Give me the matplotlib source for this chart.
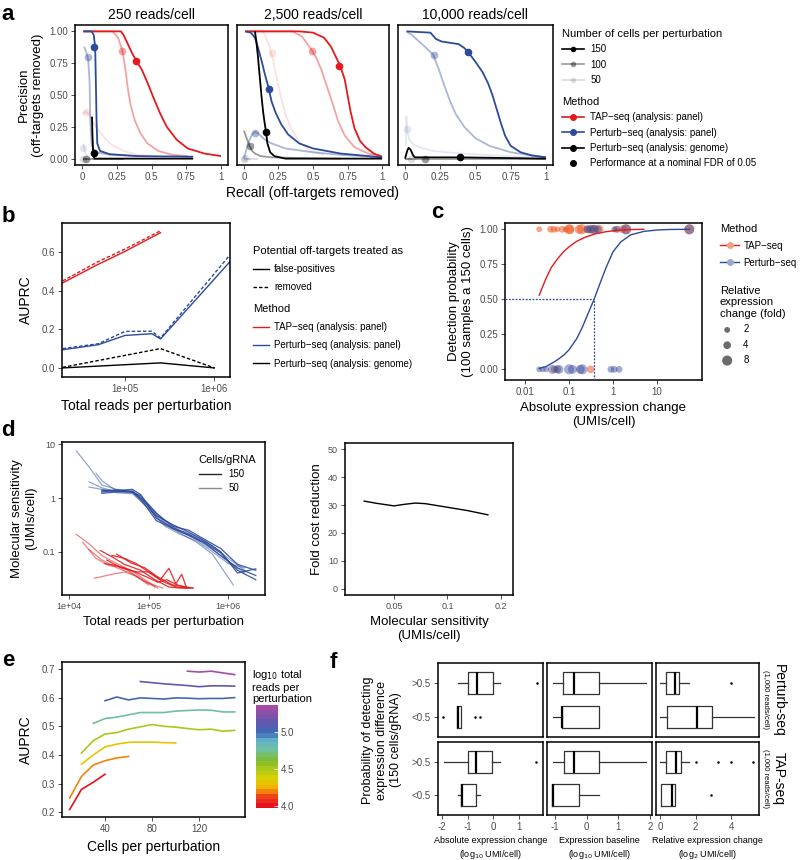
import numpy as np
import matplotlib
matplotlib.use("Agg")
import matplotlib.pyplot as plt
from matplotlib.lines import Line2D
from matplotlib.colors import LinearSegmentedColormap, Normalize
import matplotlib.colorbar as mcolorbar

plt.rcParams['font.family'] = ['Liberation Sans', 'DejaVu Sans']

W, H = 800, 860
fig = plt.figure(figsize=(W / 100, H / 100), dpi=100)

RED = '#e41a1c'
BLUE = '#2d4b9b'
TICKC = '#4d4d4d'

# ---------------- data: panel a (precision / recall) ----------------
a_titles = ['250 reads/cell', '2,500 reads/cell', '10,000 reads/cell']
a_ticks = [0, 0.25, 0.5, 0.75, 1]
a_xlabels = ['0', '0.25', '0.5', '0.75', '1']
a_ylabels = ['0.00', '0.25', '0.50', '0.75', '1.00']

# 250 reads/cell
tap150_250_r = [0.01, 0.28, 0.30, 0.33, 0.36, 0.39, 0.43, 0.47, 0.51, 0.56, 0.61, 0.68, 0.76, 0.88, 1.0]
tap150_250_p = [1, 1, 0.97, 0.90, 0.83, 0.77, 0.70, 0.60, 0.49, 0.36, 0.25, 0.15, 0.08, 0.04, 0.02]
tap100_250_r = [0.01, 0.22, 0.26, 0.29, 0.31, 0.33, 0.35, 0.38, 0.42, 0.47, 0.55, 0.65, 0.76]
tap100_250_p = [1, 1, 0.95, 0.85, 0.72, 0.55, 0.42, 0.30, 0.20, 0.12, 0.06, 0.03, 0.02]
tap50_250_r = [0.0, 0.03, 0.06, 0.1, 0.15, 0.2, 0.3, 0.4, 0.5]
tap50_250_p = [0.35, 0.37, 0.33, 0.25, 0.18, 0.12, 0.06, 0.03, 0.02]
pp150_250_r = [0.01, 0.07, 0.085, 0.095, 0.10, 0.105, 0.11, 0.13, 0.2, 0.4, 0.8]
pp150_250_p = [1, 1, 0.97, 0.88, 0.6, 0.3, 0.12, 0.06, 0.035, 0.02, 0.015]
pp100_250_r = [0.015, 0.03, 0.045, 0.055, 0.06, 0.07, 0.1, 0.2, 0.4]
pp100_250_p = [0.88, 0.84, 0.78, 0.6, 0.3, 0.1, 0.05, 0.03, 0.02]
pp50_250_r = [0.01, 0.015, 0.03, 0.06]
pp50_250_p = [0.12, 0.08, 0.03, 0.01]
gen150_250_r = [0.072, 0.075, 0.08, 0.085, 0.09, 0.2, 0.8]
gen150_250_p = [0.33, 0.2, 0.06, 0.02, 0.0, 0.0, 0.0]
gen100_250_r = [0.01, 0.03, 0.1, 0.3]
gen100_250_p = [0.0, 0.0, 0.0, 0.0]
gen50_250_r = [0.005, 0.05]
gen50_250_p = [0.0, 0.0]
fdr_250 = {'tap150': (0.39, 0.765), 'tap100': (0.29, 0.845), 'tap50': (0.03, 0.37),
           'pp150': (0.09, 0.88), 'pp100': (0.04, 0.80), 'pp50': (0.01, 0.08),
           'gen150': (0.084, 0.045), 'gen100': (0.03, 0.0), 'gen50': (0.01, 0.0)}

# 2,500 reads/cell
tap150_2500_r = [0.01, 0.40, 0.50, 0.58, 0.63, 0.67, 0.70, 0.73, 0.75, 0.77, 0.80, 0.84, 0.88, 0.94, 1.0]
tap150_2500_p = [1, 1, 0.99, 0.95, 0.88, 0.79, 0.72, 0.62, 0.50, 0.38, 0.24, 0.14, 0.09, 0.04, 0.015]
tap100_2500_r = [0.01, 0.35, 0.42, 0.48, 0.52, 0.56, 0.60, 0.64, 0.68, 0.73, 0.80, 0.90, 1.0]
tap100_2500_p = [1, 1, 0.96, 0.87, 0.80, 0.70, 0.57, 0.44, 0.30, 0.18, 0.09, 0.04, 0.02]
tap50_2500_r = [0.01, 0.14, 0.18, 0.21, 0.24, 0.27, 0.30, 0.34, 0.40, 0.48, 0.58]
tap50_2500_p = [1, 1, 0.9, 0.78, 0.62, 0.48, 0.35, 0.24, 0.13, 0.06, 0.03]
pp150_2500_r = [0.01, 0.05, 0.08, 0.10, 0.13, 0.15, 0.18, 0.20, 0.23, 0.27, 0.32, 0.40, 0.50, 0.70, 1.0]
pp150_2500_p = [1, 0.99, 0.95, 0.88, 0.76, 0.67, 0.55, 0.45, 0.36, 0.27, 0.19, 0.12, 0.08, 0.04, 0.01]
pp100_2500_r = [0.0, 0.03, 0.06, 0.08, 0.1, 0.15, 0.2, 0.3, 0.5, 0.7, 1.0]
pp100_2500_p = [0.0, 0.12, 0.19, 0.21, 0.20, 0.15, 0.12, 0.08, 0.05, 0.03, 0.01]
pp50_2500_r = [0.0, 0.05]
pp50_2500_p = [0.0, 0.0]
gen150_2500_r = [0.08, 0.09, 0.10, 0.11, 0.12, 0.13, 0.14, 0.15, 0.16, 0.17, 0.19, 0.22, 0.3, 1.0]
gen150_2500_p = [1, 0.92, 0.82, 0.70, 0.58, 0.46, 0.36, 0.28, 0.21, 0.12, 0.05, 0.02, 0.0, 0.0]
gen100_2500_r = [0.0, 0.02, 0.04, 0.06, 0.08, 0.12, 0.2, 0.4, 0.7]
gen100_2500_p = [0.22, 0.16, 0.10, 0.06, 0.04, 0.02, 0.01, 0.005, 0.0]
gen50_2500_r = [0.0, 0.1]
gen50_2500_p = [0.0, 0.0]
fdr_2500 = {'tap150': (0.69, 0.73), 'tap100': (0.49, 0.845), 'tap50': (0.2, 0.83),
            'pp150': (0.18, 0.545), 'pp100': (0.08, 0.205), 'pp50': (0.005, 0.005),
            'gen150': (0.16, 0.21), 'gen100': (0.045, 0.10), 'gen50': (0.0, 0.0)}

# 10,000 reads/cell
pp150_10k_r = [0.01, 0.18, 0.22, 0.26, 0.32, 0.38, 0.42, 0.45, 0.50, 0.55, 0.59, 0.62, 0.65, 0.68, 0.71, 0.75, 0.82, 0.90, 1.0]
pp150_10k_p = [1, 0.99, 0.94, 0.92, 0.91, 0.90, 0.87, 0.835, 0.76, 0.68, 0.59, 0.50, 0.39, 0.28, 0.18, 0.10, 0.05, 0.025, 0.01]
pp100_10k_r = [0.01, 0.05, 0.10, 0.15, 0.20, 0.24, 0.28, 0.32, 0.36, 0.42, 0.50, 0.60, 0.75, 1.0]
pp100_10k_p = [1, 0.97, 0.92, 0.87, 0.815, 0.70, 0.57, 0.45, 0.35, 0.25, 0.16, 0.10, 0.05, 0.01]
pp50_10k_r = [0.005, 0.01, 0.015, 0.03, 0.06, 0.1, 0.2, 0.4, 0.7, 1.0]
pp50_10k_p = [0.10, 0.33, 0.22, 0.15, 0.11, 0.09, 0.06, 0.04, 0.02, 0.01]
gen150_10k_r = [0.0, 0.015, 0.025, 0.04, 0.055, 0.07, 0.1, 0.39, 1.0]
gen150_10k_p = [0.0, 0.06, 0.085, 0.07, 0.03, 0.01, 0.01, 0.01, 0.0]
gen100_10k_r = [0.0, 0.14, 1.0]
gen100_10k_p = [0.0, 0.0, 0.0]
gen50_10k_r = [0.0, 0.05]
gen50_10k_p = [0.0, 0.0]
fdr_10k = {'pp150': (0.45, 0.835), 'pp100': (0.205, 0.815), 'pp50': (0.012, 0.23),
           'gen150': (0.39, 0.01), 'gen100': (0.14, 0.0), 'gen50': (0.04, 0.0)}

# ---------------- data: panel b ----------------
b_tap_x = [2e4, 5e4, 1e5, 2.5e5]
b_tap_fp = [0.44, 0.536, 0.603, 0.70]
b_tap_rm = [0.45, 0.55, 0.615, 0.71]
b_pp_x = [2e4, 5e4, 1e5, 2e5, 2.5e5, 1.5e6]
b_pp_fp = [0.094, 0.12, 0.168, 0.177, 0.15, 0.55]
b_pp_rm = [0.10, 0.125, 0.189, 0.19, 0.155, 0.585]
b_gen_x = [2e4, 2.5e5, 1e6]
b_gen_fp = [0.0, 0.026, 0.0]
b_gen_rm = [0.003, 0.10, 0.0]

# ---------------- data: panel c ----------------
c_tap_curve_x = [0.021, 0.03, 0.04, 0.055, 0.075, 0.1, 0.15, 0.24, 0.4, 0.7, 1.2, 2.5, 5]
c_tap_curve_y = [0.53, 0.65, 0.73, 0.79, 0.84, 0.875, 0.915, 0.945, 0.968, 0.983, 0.992, 0.998, 1.0]
c_pp_curve_x = [0.021, 0.03, 0.05, 0.075, 0.1, 0.15, 0.2, 0.28, 0.37, 0.5, 0.7, 1.0, 1.5, 2.5, 5, 10, 20, 55]
c_pp_curve_y = [0.007, 0.02, 0.06, 0.10, 0.14, 0.22, 0.30, 0.41, 0.50, 0.61, 0.73, 0.84, 0.91, 0.96, 0.985, 0.995, 0.999, 1.0]
c_threshold = 0.37
c_tap_pts_x = [0.021, 0.038, 0.045, 0.054, 0.07, 0.084, 0.1, 0.105, 0.17, 0.195, 0.26, 0.31, 0.37, 0.48,
               1.16, 1.64, 1.97, 54, 0.31, 0.047]
c_tap_pts_y = [1, 1, 1, 1, 1, 1, 1, 1, 1, 1, 1, 1, 1, 1, 1, 1, 1, 1, 0, 0]
c_tap_fold = [2, 3, 3, 2, 3, 2, 8, 6, 6, 8, 4, 4, 6, 6, 3, 4, 8, 8, 4, 4]
c_pp_pts_x = [0.26, 0.31, 0.37, 0.45, 1.06, 1.26, 1.97, 54,
              0.021, 0.025, 0.03, 0.042, 0.054, 0.059, 0.1, 0.12, 0.18, 0.2, 0.89, 1.06, 1.37]
c_pp_pts_y = [1, 1, 1, 1, 1, 1, 1, 1, 0, 0, 0, 0, 0, 0, 0, 0, 0, 0, 0, 0, 0]
c_pp_fold = [4, 6, 6, 4, 2, 3, 8, 8, 2, 2, 2, 6, 4, 6, 8, 6, 6, 8, 3, 3, 3]
c_fold_legend = [2, 4, 8]

# ---------------- data: panel d ----------------
d_blue150 = [
    ([2.6e4, 4.0e4, 6.3e4, 8.0e4, 1.25e5, 2.0e5, 3.2e5, 5.0e5, 8.0e5, 1.3e6, 2.2e6],
     [1.30, 1.38, 1.45, 1.15, 0.42, 0.28, 0.21, 0.15, 0.095, 0.045, 0.030]),
    ([2.6e4, 4.0e4, 6.3e4, 8.0e4, 1.25e5, 2.0e5, 3.2e5, 5.0e5, 8.0e5, 1.3e6, 2.2e6],
     [1.22, 1.30, 1.35, 1.02, 0.47, 0.32, 0.23, 0.16, 0.10, 0.040, 0.048]),
    ([2.6e4, 4.0e4, 6.3e4, 8.0e4, 1.25e5, 2.0e5, 3.2e5, 5.0e5, 8.0e5, 1.3e6, 2.2e6],
     [1.42, 1.35, 1.28, 1.10, 0.52, 0.30, 0.25, 0.17, 0.115, 0.058, 0.045]),
    ([2.6e4, 4.0e4, 6.3e4, 8.0e4, 1.25e5, 2.0e5, 3.2e5, 5.0e5, 8.0e5, 1.3e6, 2.2e6],
     [1.35, 1.42, 1.32, 0.95, 0.38, 0.27, 0.20, 0.145, 0.085, 0.05, 0.036]),
]
d_blue50 = [
    ([1.25e4, 1.8e4, 2.6e4, 4e4, 6.3e4, 1e5, 1.6e5, 2.5e5, 4e5, 6.3e5, 1.15e6],
     [7.5, 3.8, 1.75, 1.45, 1.3, 0.62, 0.33, 0.22, 0.15, 0.09, 0.024]),
    ([1.8e4, 2.6e4, 4e4, 6.3e4, 1e5, 1.6e5, 2.5e5, 4e5, 6.3e5, 1e6, 1.6e6],
     [2.0, 1.55, 1.3, 1.25, 0.70, 0.35, 0.24, 0.17, 0.11, 0.065, 0.04]),
    ([2.2e4, 2.6e4, 4e4, 6.3e4, 1e5, 1.6e5, 2.5e5, 4e5, 6.3e5, 1e6, 1.6e6],
     [2.9, 2.1, 1.35, 1.3, 0.75, 0.37, 0.25, 0.19, 0.13, 0.075, 0.045]),
    ([1.8e4, 2.6e4, 4e4, 6.3e4, 1e5, 1.6e5, 2.5e5, 4e5, 6.3e5, 1e6, 1.6e6],
     [1.6, 1.45, 1.25, 1.2, 0.65, 0.30, 0.21, 0.16, 0.10, 0.06, 0.05]),
]
d_red50 = [
    ([1.25e4, 1.8e4, 2.6e4, 4e4, 6e4, 9e4, 1.3e5], [0.21, 0.14, 0.085, 0.06, 0.045, 0.03, 0.021]),
    ([1.5e4, 2.2e4, 3.2e4, 5e4, 7e4, 1e5, 1.5e5], [0.15, 0.075, 0.055, 0.05, 0.035, 0.026, 0.021]),
    ([2.1e4, 3.5e4, 5e4, 7e4, 1e5], [0.032, 0.038, 0.042, 0.035, 0.024]),
    ([1.8e4, 2.6e4, 4e4, 6e4, 9e4, 1.2e5], [0.11, 0.07, 0.05, 0.04, 0.028, 0.022]),
]
d_red150 = [
    ([2.5e4, 3.5e4, 5e4, 8e4, 1.2e5, 1.8e5, 2.5e5, 3.6e5], [0.105, 0.08, 0.058, 0.045, 0.03, 0.022, 0.021, 0.021]),
    ([3.5e4, 5e4, 7e4, 1e5, 1.4e5, 1.8e5, 2.2e5, 2.6e5, 3e5], [0.085, 0.075, 0.06, 0.042, 0.03, 0.049, 0.025, 0.038, 0.021]),
    ([4e4, 6e4, 9e4, 1.3e5, 2e5, 3.6e5], [0.09, 0.062, 0.05, 0.034, 0.024, 0.021]),
    ([3e4, 4.5e4, 7e4, 1e5, 1.5e5, 2.2e5, 3e5], [0.07, 0.05, 0.042, 0.042, 0.028, 0.022, 0.021]),
    ([2.8e4, 4e4, 6e4, 9e4, 1.3e5, 1.7e5, 2.3e5, 3.2e5], [0.06, 0.055, 0.045, 0.035, 0.027, 0.030, 0.024, 0.021]),
]
d_cost_x = [0.034, 0.04, 0.05, 0.058, 0.066, 0.075, 0.1, 0.13, 0.169]
d_cost_y = [31.4, 30.6, 29.7, 30.3, 30.7, 30.5, 29.2, 28.0, 26.5]

# ---------------- data: panel e ----------------
e_lines = [
    (4.00, [10, 20, 30, 40], [0.21, 0.28, 0.305, 0.333]),
    (4.20, [10, 20, 30, 40, 50, 60], [0.25, 0.325, 0.365, 0.38, 0.39, 0.395]),
    (4.33, [20, 30, 40, 50, 60, 70, 80, 90, 100], [0.368, 0.40, 0.428, 0.438, 0.444, 0.445, 0.445, 0.443, 0.442]),
    (4.52, [20, 30, 40, 50, 60, 70, 80, 90, 100, 110, 120, 130, 140, 150],
     [0.407, 0.45, 0.473, 0.478, 0.49, 0.498, 0.506, 0.50, 0.497, 0.492, 0.488, 0.49, 0.483, 0.486]),
    (4.76, [30, 40, 50, 60, 70, 80, 90, 100, 110, 120, 130, 140, 150],
     [0.51, 0.527, 0.532, 0.54, 0.548, 0.548, 0.548, 0.553, 0.555, 0.557, 0.556, 0.55, 0.55]),
    (5.00, [40, 50, 60, 70, 80, 90, 100, 110, 120, 130, 140, 150],
     [0.589, 0.602, 0.592, 0.599, 0.597, 0.595, 0.599, 0.598, 0.596, 0.597, 0.597, 0.60]),
    (5.17, [70, 80, 90, 100, 110, 120, 130, 140, 150],
     [0.656, 0.652, 0.648, 0.645, 0.642, 0.638, 0.641, 0.641, 0.640]),
    (5.33, [110, 120, 130, 140, 150], [0.692, 0.689, 0.692, 0.686, 0.68]),
]

# ---------------- data: panel f (box statistics) ----------------
f_cols = ['Absolute expression change\n(log$_{10}$ UMI/cell)', 'Expression baseline\n(log$_{10}$ UMI/cell)',
          'Relative expression change\n(log$_{2}$ UMI/cell)']
f_rows = ['Perturb-seq', 'TAP-seq']
f_xticks = [[-2, -1, 0, 1], [-1, 0, 1, 2], [0, 2, 4]]
f_xlims = [(-2.17, 1.96), (-1.24, 2.05), (-0.24, 5.58)]
# (whislo, q1, med, q3, whishi, fliers) for "<0.5" then ">0.5"
f_pp = [
    [(-1.42, -1.42, -1.38, -1.25, -1.25, [-1.98, -0.72, -0.52]), (-1.38, -0.99, -0.65, 0.0, 0.27, [1.72])],
    [(-1.05, -0.77, -0.76, 0.38, 0.38, []), (-1.05, -0.73, -0.38, 0.38, 1.85, [])],
    [(0.0, 0.36, 2.06, 2.93, 5.27, []), (0.01, 0.3, 0.82, 1.08, 1.63, [4.0])],
]
f_tap = [
    [(-1.38, -1.25, -1.22, -0.68, -0.52, []), (-1.94, -0.98, -0.66, -0.04, 0.26, [1.7])],
    [(-1.08, -1.08, -1.05, -0.24, 0.38, []), (-1.05, -0.72, -0.38, 0.38, 1.86, [])],
    [(0.03, 0.05, 0.64, 0.82, 0.82, [2.88]), (0.0, 0.32, 0.88, 1.2, 1.63, [2.0, 3.25, 4.0, 5.23])],
]


# ---------------- helpers ----------------
def pax(x0, y0, x1, y1):
    return fig.add_axes([x0 / W, 1 - y1 / H, (x1 - x0) / W, (y1 - y0) / H])


def ftext(x, y, s, **kw):
    return fig.text(x / W, 1 - y / H, s, **kw)


def style(ax, lw=1.1, size=7):
    for sp in ax.spines.values():
        sp.set_linewidth(lw)
        sp.set_color('black')
    ax.tick_params(length=3, width=0.6, color='#333333', labelsize=size,
                   labelcolor=TICKC, pad=2)


# ---------------- panel a ----------------
cells_alpha = {150: 1.0, 100: 0.4, 50: 0.13}
method_color = {'tap': RED, 'pp': BLUE, 'gen': 'black'}

curves_a = [
    {'gen50': (gen50_250_r, gen50_250_p), 'pp50': (pp50_250_r, pp50_250_p), 'tap50': (tap50_250_r, tap50_250_p),
     'gen100': (gen100_250_r, gen100_250_p), 'pp100': (pp100_250_r, pp100_250_p), 'tap100': (tap100_250_r, tap100_250_p),
     'tap150': (tap150_250_r, tap150_250_p), 'pp150': (pp150_250_r, pp150_250_p), 'gen150': (gen150_250_r, gen150_250_p)},
    {'gen50': (gen50_2500_r, gen50_2500_p), 'pp50': (pp50_2500_r, pp50_2500_p), 'tap50': (tap50_2500_r, tap50_2500_p),
     'gen100': (gen100_2500_r, gen100_2500_p), 'pp100': (pp100_2500_r, pp100_2500_p), 'tap100': (tap100_2500_r, tap100_2500_p),
     'tap150': (tap150_2500_r, tap150_2500_p), 'pp150': (pp150_2500_r, pp150_2500_p), 'gen150': (gen150_2500_r, gen150_2500_p)},
    {'gen50': (gen50_10k_r, gen50_10k_p), 'pp50': (pp50_10k_r, pp50_10k_p),
     'gen100': (gen100_10k_r, gen100_10k_p), 'pp100': (pp100_10k_r, pp100_10k_p),
     'pp150': (pp150_10k_r, pp150_10k_p), 'gen150': (gen150_10k_r, gen150_10k_p)},
]
fdrs_a = [fdr_250, fdr_2500, fdr_10k]
boxes_a = [(75, 25, 228, 165), (237, 25, 389, 165), (398, 25, 553, 165)]

for i, box in enumerate(boxes_a):
    ax = pax(*box)
    style(ax)
    for key, (r, p) in curves_a[i].items():
        m = key.rstrip('0123456789')
        n = int(key[len(m):])
        ax.plot(r, p, color=method_color[m], alpha=cells_alpha[n], lw=1.3, solid_capstyle='butt')
        fx, fy = fdrs_a[i][key]
        ax.plot([fx], [fy], 'o', color=method_color[m], alpha=cells_alpha[n], ms=5.5, mec='none')
    ax.set_xlim(-0.05, 1.05)
    ax.set_ylim(-0.05, 1.05)
    ax.set_xticks(a_ticks)
    ax.set_xticklabels(a_xlabels)
    ax.set_yticks(a_ticks)
    if i == 0:
        ax.set_yticklabels(a_ylabels)
        ax.set_ylabel('Precision\n(off-targets removed)', fontsize=9.5, labelpad=4)
    else:
        ax.set_yticklabels([])
        ax.tick_params(axis='y', length=0)
    ax.set_title(a_titles[i], fontsize=10, pad=4)

ftext(312, 193, 'Recall (off-targets removed)', fontsize=10, ha='center', va='center')

leg_kw = dict(loc='upper left', frameon=False, fontsize=7, title_fontsize=8, alignment='left',
              borderaxespad=0)
h_cells = [Line2D([], [], color='black', alpha=cells_alpha[n], marker='o', ms=4, lw=1.2, mec='none')
           for n in (150, 100, 50)]
fig.legend(h_cells, ['150', '100', '50'], bbox_to_anchor=(558 / W, 1 - 25 / H),
           title='Number of cells per perturbation', handlelength=2.3, labelspacing=0.55,
           handletextpad=0.6, **leg_kw)
h_meth = [Line2D([], [], color=RED, marker='o', ms=4, lw=1.2),
          Line2D([], [], color=BLUE, marker='o', ms=4, lw=1.2),
          Line2D([], [], color='black', marker='o', ms=4, lw=1.2),
          Line2D([], [], color='black', marker='o', ms=4, ls='none')]
fig.legend(h_meth, ['TAP\u2212seq (analysis: panel)', 'Perturb\u2212seq (analysis: panel)',
                    'Perturb\u2212seq (analysis: genome)', 'Performance at a nominal FDR of 0.05'],
           bbox_to_anchor=(558 / W, 1 - 93 / H), title='Method', handlelength=2.3, labelspacing=0.55,
           handletextpad=0.6, **leg_kw)

# ---------------- panel b ----------------
ax = pax(62, 223, 230, 377)
style(ax)
ax.set_xscale('log')
ax.plot(b_tap_x, b_tap_fp, color=RED, lw=1.0)
ax.plot(b_tap_x, b_tap_rm, color=RED, lw=1.0, ls=(0, (2.5, 1.5)))
ax.plot(b_pp_x, b_pp_fp, color=BLUE, lw=1.0)
ax.plot(b_pp_x, b_pp_rm, color=BLUE, lw=1.0, ls=(0, (2.5, 1.5)))
ax.plot(b_gen_x, b_gen_fp, color='black', lw=1.0)
ax.plot(b_gen_x, b_gen_rm, color='black', lw=1.0, ls=(0, (2.5, 1.5)))
ax.set_xlim(1.97e4, 1.5e6)
ax.set_ylim(-0.047, 0.75)
ax.minorticks_off()
ax.set_xticks([1e5, 1e6])
ax.set_xticklabels(['1e+05', '1e+06'])
ax.set_yticks([0, 0.2, 0.4, 0.6])
ax.set_yticklabels(['0.0', '0.2', '0.4', '0.6'])
ax.set_ylabel('AUPRC', fontsize=10, labelpad=6)
ax.set_xlabel('Total reads per perturbation', fontsize=10, labelpad=4)

h_lt = [Line2D([], [], color='black', lw=1.0), Line2D([], [], color='black', lw=1.0, ls=(0, (2.5, 1.5)))]
fig.legend(h_lt, ['false-positives', 'removed'], bbox_to_anchor=(249 / W, 1 - 242 / H),
           title='Potential off-targets treated as', handlelength=1.7, labelspacing=0.85,
           handletextpad=0.5, **leg_kw)
h_mb = [Line2D([], [], color=c, lw=1.0) for c in (RED, BLUE, 'black')]
fig.legend(h_mb, ['TAP\u2212seq (analysis: panel)', 'Perturb\u2212seq (analysis: panel)',
                  'Perturb\u2212seq (analysis: genome)'],
           bbox_to_anchor=(249 / W, 1 - 300 / H), title='Method', handlelength=1.7, labelspacing=0.85,
           handletextpad=0.5, **leg_kw)


# ---------------- panel c ----------------
def fold_size(f):
    return 10 * np.asarray(f, dtype=float) ** 0.8


TAP_PT = '#f05a28'
PP_PT = '#34489c'
ax = pax(505, 223, 702, 380)
style(ax)
ax.set_xscale('log')
ax.set_xlim(0.0035, 105)
ax.set_ylim(-0.076, 1.045)
ax.scatter(c_tap_pts_x, c_tap_pts_y, s=fold_size(c_tap_fold), color=TAP_PT, alpha=0.55, edgecolors='none', zorder=2)
ax.scatter(c_pp_pts_x, c_pp_pts_y, s=fold_size(c_pp_fold), color=PP_PT, alpha=0.45, edgecolors='none', zorder=2)
ax.plot(c_tap_curve_x, c_tap_curve_y, color=RED, lw=1.0, zorder=3)
ax.plot(c_pp_curve_x, c_pp_curve_y, color=BLUE, lw=1.0, zorder=3)
ax.plot([0.0035, c_threshold], [0.5, 0.5], color=BLUE, lw=0.9, ls=(0, (1.5, 1.2)), zorder=3)
ax.plot([c_threshold, c_threshold], [-0.076, 0.5], color=BLUE, lw=0.9, ls=(0, (1.5, 1.2)), zorder=3)
ax.minorticks_off()
ax.set_xticks([0.01, 0.1, 1, 10])
ax.set_xticklabels(['0.01', '0.1', '1', '10'])
ax.set_yticks([0, 0.25, 0.5, 0.75, 1])
ax.set_yticklabels(['0.00', '0.25', '0.50', '0.75', '1.00'])
ax.set_ylabel('Detection probability\n(100 samples a 150 cells)', fontsize=9.5, labelpad=4)
ax.set_xlabel('Absolute expression change\n(UMIs/cell)', fontsize=9.5, labelpad=4)

h_mc = [Line2D([], [], color=RED, lw=1.0, marker='o', ms=5, mfc='#f6a07f', mec='none'),
        Line2D([], [], color=BLUE, lw=1.0, marker='o', ms=5, mfc='#9ca7cf', mec='none')]
fig.legend(h_mc, ['TAP\u2212seq', 'Perturb\u2212seq'], bbox_to_anchor=(716 / W, 1 - 220 / H),
           title='Method', handlelength=2.0, labelspacing=0.7, handletextpad=0.45, **leg_kw)
h_sz = [plt.scatter([], [], s=fold_size(f), color='#6b6b6b', edgecolors='none') for f in c_fold_legend]
fig.legend(h_sz, [str(f) for f in c_fold_legend], bbox_to_anchor=(716 / W, 1 - 282 / H),
           title='Relative\nexpression\nchange (fold)', handlelength=1.5, labelspacing=0.55,
           handletextpad=0.9, scatterpoints=1, **leg_kw)

# ---------------- panel d (left) ----------------
ax = pax(62, 442, 265, 595)
style(ax, size=6.5)
ax.set_xscale('log')
ax.set_yscale('log')
for xs, ys in d_blue50:
    ax.plot(xs, ys, color=BLUE, alpha=0.5, lw=0.9)
for xs, ys in d_blue150:
    ax.plot(xs, ys, color=BLUE, alpha=0.9, lw=0.9)
for xs, ys in d_red50:
    ax.plot(xs, ys, color=RED, alpha=0.55, lw=0.9)
for xs, ys in d_red150:
    ax.plot(xs, ys, color=RED, alpha=0.9, lw=0.9)
ax.set_xlim(8.25e3, 2.87e6)
ax.set_ylim(0.0156, 11.05)
ax.minorticks_off()
ax.set_xticks([1e4, 1e5, 1e6])
ax.set_xticklabels(['1e+04', '1e+05', '1e+06'])
ax.set_yticks([0.1, 1, 10])
ax.set_yticklabels(['0.1', '1', '10'])
ax.set_ylabel('Molecular sensitivity\n(UMIs/cell)', fontsize=9.5, labelpad=4)
ax.set_xlabel('Total reads per perturbation', fontsize=9.5, labelpad=4)
h_d = [Line2D([], [], color='black', alpha=0.85, lw=1.0), Line2D([], [], color='black', alpha=0.45, lw=1.0)]
ax.legend(h_d, ['150', '50'], loc='upper right', bbox_to_anchor=(1.0, 0.97), frameon=False, fontsize=7,
          title='Cells/gRNA', title_fontsize=8, alignment='left', handlelength=2.3, labelspacing=0.4,
          handletextpad=0.8)

# ---------------- panel d (right) ----------------
ax = pax(345, 443, 513, 595)
style(ax, size=6.5)
ax.set_xscale('log')
ax.plot(d_cost_x, d_cost_y, color='black', lw=1.0)
ax.set_xlim(0.0265, 0.234)
ax.set_ylim(-2.2, 52.2)
ax.minorticks_off()
ax.set_xticks([0.05, 0.1, 0.2])
ax.set_xticklabels(['0.05', '0.1', '0.2'])
ax.set_yticks([0, 10, 20, 30, 40, 50])
ax.set_ylabel('Fold cost reduction', fontsize=9.5, labelpad=4)
ax.set_xlabel('Molecular sensitivity\n(UMIs/cell)', fontsize=9.5, labelpad=4)

# ---------------- panel e ----------------
e_cmap = LinearSegmentedColormap.from_list('e_rainbow', [
    (0.00, '#e8111d'), (0.11, '#ee4c18'), (0.165, '#f7a600'), (0.27, '#dcd200'), (0.38, '#a8c81c'),
    (0.46, '#7fbb2a'), (0.56, '#72c09a'), (0.66, '#62b4cc'), (0.74, '#3f6ab4'), (0.85, '#6258ad'),
    (1.00, '#a64ca6')], N=22)
e_norm = Normalize(3.97, 5.37)
ax = pax(62, 662, 245, 817)
style(ax)
for val, xs, ys in e_lines:
    ax.plot(xs, ys, color=e_cmap(e_norm(val)), lw=1.2)
ax.set_xlim(3.5, 158.8)
ax.set_ylim(0.184, 0.724)
ax.set_xticks([40, 80, 120])
ax.set_yticks([0.2, 0.3, 0.4, 0.5, 0.6, 0.7])
ax.set_ylabel('AUPRC', fontsize=10, labelpad=6)
ax.set_xlabel('Cells per perturbation', fontsize=10, labelpad=4)

cax = pax(256, 705, 278, 808)
cb = mcolorbar.ColorbarBase(cax, cmap=e_cmap, norm=e_norm, orientation='vertical')
cb.outline.set_visible(False)
cb.set_ticks([4.0, 4.5, 5.0])
cb.set_ticklabels(['4.0', '4.5', '5.0'])
cax.tick_params(length=3, width=0.6, color='white', labelsize=7, labelcolor=TICKC, pad=2, direction='in')
ftext(252, 668, 'log$_{10}$ total\nreads per\nperturbation', fontsize=8, ha='left', va='top', linespacing=1.15)

# ---------------- panel f ----------------
col_boxes = [(438, 543), (547, 652), (656, 759)]
row_boxes = [(663, 737), (742, 815)]
for r, data in enumerate([f_pp, f_tap]):
    for c in range(3):
        ax = pax(col_boxes[c][0], row_boxes[r][0], col_boxes[c][1], row_boxes[r][1])
        style(ax)
        stats = []
        for (wlo, q1, med, q3, whi, fl) in data[c]:
            stats.append(dict(whislo=wlo, q1=q1, med=med, q3=q3, whishi=whi, fliers=fl))
        ax.bxp(stats, positions=[1, 2], widths=0.65, orientation='horizontal', showcaps=False,
               boxprops=dict(color='#333333', lw=0.9), whiskerprops=dict(color='#333333', lw=0.9),
               medianprops=dict(color='black', lw=1.6),
               flierprops=dict(marker='o', ms=1.8, mfc='black', mec='none'))
        ax.set_xlim(*f_xlims[c])
        ax.set_ylim(0.4, 2.6)
        ax.set_xticks(f_xticks[c])
        ax.set_yticks([1, 2])
        if c == 0:
            ax.set_yticklabels(['<0.5', '>0.5'])
        else:
            ax.set_yticklabels([])
            ax.tick_params(axis='y', length=0)
        if r == 1:
            ax.set_xticklabels([str(t) for t in f_xticks[c]])
            ax.set_xlabel(f_cols[c], fontsize=6.5, labelpad=3, linespacing=1.3)
        else:
            ax.set_xticklabels([])
            ax.tick_params(axis='x', length=0)
    yc = (row_boxes[r][0] + row_boxes[r][1]) / 2
    ftext(779, yc, f_rows[r], fontsize=10, rotation=-90, ha='center', va='center')
    ftext(766, yc, '(1,000 reads/cell)', fontsize=5.5, rotation=-90, ha='center', va='center')

ftext(382, 740, 'Probability of detecting\nexpression difference\n(150 cells/gRNA)', fontsize=9,
      rotation=90, ha='center', va='center', linespacing=1.2)

# ---------------- panel letters ----------------
for lab, x, y in [('a', 8, 15), ('b', 8, 217), ('c', 437, 213), ('d', 8, 430), ('e', 8, 660), ('f', 333, 663)]:
    ftext(x, y, lab, fontsize=16, fontweight='bold', ha='center', va='center')

fig.savefig('out.png', dpi=100)
